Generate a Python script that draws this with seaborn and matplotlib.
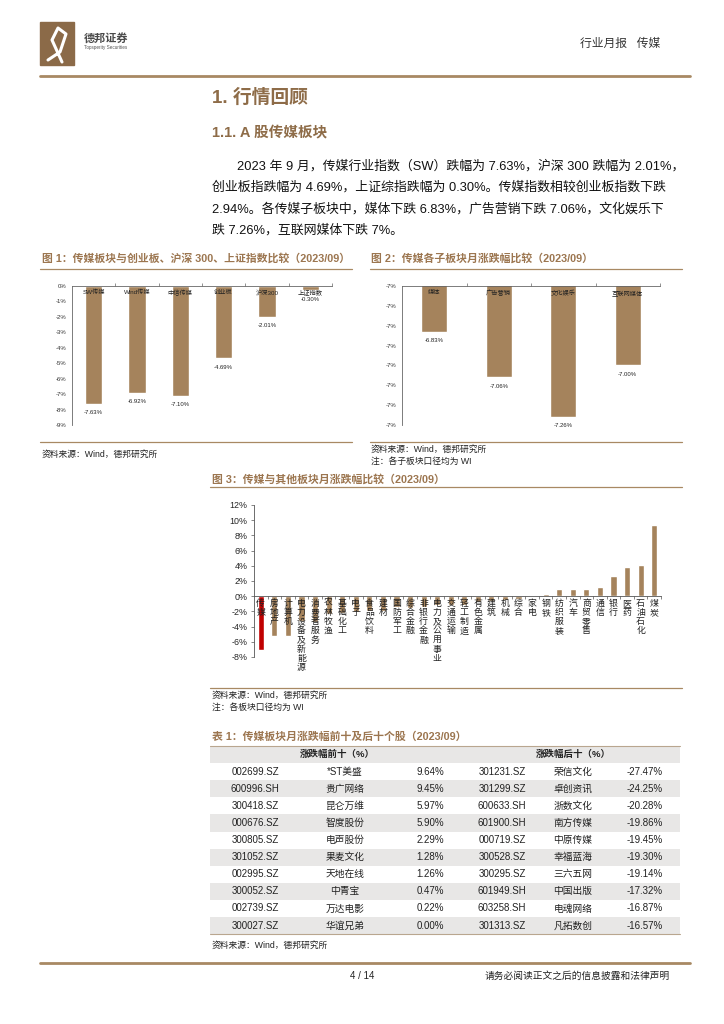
import matplotlib.pyplot as plt
from matplotlib.patches import Rectangle
from matplotlib.ticker import FuncFormatter
import numpy as np
import pandas as pd
import seaborn as sns

W, H = 724, 1024
BROWN = '#A5835C'
RED = '#C00000'
HEAD = '#8E6C48'
TITLE = '#9C7650'
RULE = '#A88963'

# figure 1: index comparison
idx_names = ['SW传媒', 'Wind传媒', '中信传媒', '创业板', '沪深300', '上证指数']
idx_chg = [-7.63, -6.92, -7.10, -4.69, -2.01, -0.30]

# figure 2: media sub-sectors
sub_names = ['媒体', '广告营销', '文化娱乐', '互联网媒体']
sub_chg = [-6.83, -7.06, -7.26, -7.00]

# figure 3: CITIC industries
ind_names = ['传媒', '房地产', '计算机', '电力设备及新能源', '消费者服务', '农林牧渔',
             '基础化工', '电子', '食品饮料', '建材', '国防军工', '综合金融',
             '非银行金融', '电力及公用事业', '交通运输', '轻工制造', '有色金属', '建筑',
             '机械', '综合', '家电', '钢铁', '纺织服装', '汽车', '商贸零售', '通信',
             '银行', '医药', '石油石化', '煤炭']
ind_chg = [-7.10, -5.30, -5.30, -3.30, -3.40, -2.30, -2.20, -2.10, -2.00, -1.90,
           -1.40, -1.60, -1.40, -1.20, -1.10, -1.10, -0.75, -0.65, -0.45, -0.40,
           0.15, 0.25, 0.90, 1.00, 1.00, 1.15, 2.70, 3.80, 4.10, 9.40]

# table 1: top / bottom ten stocks
top_codes = ['002699.SZ', '600996.SH', '300418.SZ', '000676.SZ', '300805.SZ',
             '301052.SZ', '002995.SZ', '300052.SZ', '002739.SZ', '300027.SZ']
top_names = ['*ST美盛', '贵广网络', '昆仑万维', '智度股份', '电声股份',
             '果麦文化', '天地在线', '中青宝', '万达电影', '华谊兄弟']
top_chg = [9.64, 9.45, 5.97, 5.90, 2.29, 1.28, 1.26, 0.47, 0.22, 0.00]
low_codes = ['301231.SZ', '301299.SZ', '600633.SH', '601900.SH', '000719.SZ',
             '300528.SZ', '300295.SZ', '601949.SH', '603258.SH', '301313.SZ']
low_names = ['荣信文化', '卓创资讯', '浙数文化', '南方传媒', '中原传媒',
             '幸福蓝海', '三六五网', '中国出版', '电魂网络', '凡拓数创']
low_chg = [-27.47, -24.25, -20.28, -19.86, -19.45, -19.30, -19.14, -17.32, -16.87, -16.57]

para_lines = [
    '2023 年 9 月，传媒行业指数（SW）跌幅为 7.63%，沪深 300 跌幅为 2.01%，',
    '创业板指跌幅为 4.69%，上证综指跌幅为 0.30%。传媒指数相较创业板指数下跌',
    '2.94%。各传媒子板块中，媒体下跌 6.83%，广告营销下跌 7.06%，文化娱乐下',
    '跌 7.26%，互联网媒体下跌 7%。',
]

pct0 = FuncFormatter(lambda v, _: f'{v:.0f}%')


def axes_px(fig, x0, y0, x1, y1):
    ax = fig.add_axes([x0 / W, 1 - y1 / H, (x1 - x0) / W, (y1 - y0) / H])
    ax.set_facecolor('none')
    return ax


def small_bars(ax, names, chg, ylim, yticks, name_y, val_off):
    df = pd.DataFrame({'name': names, 'chg': chg})
    sns.barplot(df, x='name', y='chg', color=BROWN, width=0.4, saturation=1, ax=ax)
    ax.set_axisbelow(False)
    n = len(names)
    ax.set_xlim(-0.5, n - 0.5)
    ax.set_ylim(*ylim)
    ax.set_xlabel('')
    ax.set_ylabel('')
    ax.set_yticks(yticks)
    ax.yaxis.set_major_formatter(pct0)
    ax.xaxis.tick_top()
    ax.set_xticks(np.arange(n) + 0.5)
    ax.set_xticklabels([])
    ax.tick_params(axis='x', length=2, width=0.5, color='#666666')
    ax.tick_params(axis='y', labelsize=4.3, length=2, width=0.5, pad=2,
                   color='#666666', labelcolor='#333333')
    for s in ['bottom', 'right']:
        ax.spines[s].set_visible(False)
    for s in ['top', 'left']:
        ax.spines[s].set_color('#666666')
        ax.spines[s].set_linewidth(0.6)
    for i, (nm, v) in enumerate(zip(names, chg)):
        ax.text(i, name_y, nm, ha='center', va='center', fontsize=4.5, color='#222222')
        ax.text(i, v - val_off, f'{v:.2f}%', ha='center', va='center', fontsize=4.3,
                color='#222222', clip_on=False)


def main():
    sns.set_theme(style='white')
    plt.rcParams['font.family'] = ['Liberation Sans', 'Noto Sans CJK SC']
    plt.rcParams['axes.unicode_minus'] = False

    fig = plt.figure(figsize=(W / 100, H / 100), dpi=100)
    fig.patch.set_facecolor('white')

    pg = fig.add_axes([0, 0, 1, 1])
    pg.set_xlim(0, W)
    pg.set_ylim(H, 0)
    pg.axis('off')

    # header
    pg.add_patch(Rectangle((40, 22), 34, 43, color='#8B6A48'))
    pg.plot([48, 60, 66, 58, 52, 62], [60, 52, 34, 28, 40, 62], color='white', lw=2.2,
            solid_capstyle='round')
    pg.text(84, 38, '德邦证券', fontsize=8, fontweight='bold', color='#4A4A4A', va='center')
    pg.text(84, 48, 'Topsperity Securities', fontsize=3.3, color='#555555', va='center')
    pg.text(660, 44, '行业月报   传媒', fontsize=8.5, color='#333333', ha='right', va='center')
    pg.plot([40, 690], [75.5, 75.5], color=RULE, lw=2)

    # headings and paragraph
    pg.text(212, 98, '1. 行情回顾', fontsize=13.5, fontweight='bold', color=HEAD, va='center')
    pg.text(212, 133, '1.1. A 股传媒板块', fontsize=10.5, fontweight='bold', color=HEAD,
            va='center')
    for k, line in enumerate(para_lines):
        pg.text(237 if k == 0 else 212, 166 + k * 21.5, line, fontsize=9.3, color='#111111',
                va='center')

    # figure titles / rules / sources
    pg.text(42, 258, '图 1：传媒板块与创业板、沪深 300、上证指数比较（2023/09）', fontsize=7.8,
            fontweight='bold', color=TITLE, va='center')
    pg.plot([40, 352], [268.5, 268.5], color=RULE, lw=0.9)
    pg.plot([40, 352], [442, 442], color=RULE, lw=0.9)
    pg.text(42, 454, '资料来源：Wind，德邦研究所', fontsize=6.3, color='#222222', va='center')

    pg.text(371, 258, '图 2：传媒各子板块月涨跌幅比较（2023/09）', fontsize=7.8,
            fontweight='bold', color=TITLE, va='center')
    pg.plot([370, 682], [268.5, 268.5], color=RULE, lw=0.9)
    pg.plot([370, 682], [442, 442], color=RULE, lw=0.9)
    pg.text(371, 449, '资料来源：Wind，德邦研究所', fontsize=6.3, color='#222222', va='center')
    pg.text(371, 461, '注：各子板块口径均为 WI', fontsize=6.3, color='#222222', va='center')

    pg.text(212, 479, '图 3：传媒与其他板块月涨跌幅比较（2023/09）', fontsize=7.8,
            fontweight='bold', color=TITLE, va='center')
    pg.plot([210, 682], [486.5, 486.5], color=RULE, lw=0.9)
    pg.plot([210, 682], [688, 688], color=RULE, lw=0.9)
    pg.text(212, 695, '资料来源：Wind，德邦研究所', fontsize=6.3, color='#222222', va='center')
    pg.text(212, 707, '注：各板块口径均为 WI', fontsize=6.3, color='#222222', va='center')

    # table 1
    pg.text(212, 737, '表 1：传媒板块月涨跌幅前十及后十个股（2023/09）', fontsize=7.8,
            fontweight='bold', color=TITLE, va='center')
    top, rh = 746, 17.1
    pg.add_patch(Rectangle((210, top), 470, rh, color='#E8E7E6', lw=0))
    pg.plot([210, 680], [top, top], color='#B9A68F', lw=0.8)
    pg.text(337, top + rh / 2, '涨跌幅前十（%）', fontsize=6.8, fontweight='bold',
            ha='center', va='center', color='#222222')
    pg.text(573, top + rh / 2, '涨跌幅后十（%）', fontsize=6.8, fontweight='bold',
            ha='center', va='center', color='#222222')
    for i in range(len(top_codes)):
        y0 = top + rh * (i + 1)
        if i % 2 == 1:
            pg.add_patch(Rectangle((210, y0), 470, rh, color='#E8E7E6', lw=0))
        yc = y0 + rh / 2
        row = [(255, top_codes[i]), (345, top_names[i]), (430, f'{top_chg[i]:.2f}%'),
               (502, low_codes[i]), (573, low_names[i]), (645, f'{low_chg[i]:.2f}%')]
        for x, t in row:
            pg.text(x, yc, t, fontsize=7, ha='center', va='center', color='#222222')
    bottom = top + rh * (len(top_codes) + 1)
    pg.plot([210, 680], [bottom, bottom], color='#B9A68F', lw=0.8)
    pg.text(212, 945, '资料来源：Wind，德邦研究所', fontsize=6.3, color='#222222', va='center')

    # footer
    pg.plot([40, 690], [963, 963], color=RULE, lw=2)
    pg.text(362, 976, '4 / 14', fontsize=7, color='#222222', ha='center', va='center')
    pg.text(670, 976, '请务必阅读正文之后的信息披露和法律声明', fontsize=7, color='#222222',
            ha='right', va='center')

    # figure 1
    ax1 = axes_px(fig, 72, 285.7, 332, 425)
    small_bars(ax1, idx_names, idx_chg, (-9, 0), range(-9, 1), -0.45, 0.58)

    # figure 2
    ax2 = axes_px(fig, 402, 286, 660, 425)
    small_bars(ax2, sub_names, sub_chg, (-7.3, -6.6), np.linspace(-7.3, -6.6, 8),
               -6.635, 0.045)

    # figure 3
    ax3 = axes_px(fig, 254, 505, 661, 657)
    df = pd.DataFrame({'name': ind_names, 'chg': ind_chg})
    colors = [RED if n == '传媒' else BROWN for n in ind_names]
    sns.barplot(df, x='name', y='chg', hue='name', palette=colors, legend=False,
                width=0.45, saturation=1, ax=ax3)
    ax3.set_axisbelow(False)
    ax3.set_xlim(-0.5, len(ind_names) - 0.5)
    ax3.set_ylim(-8, 12)
    ax3.set_xlabel('')
    ax3.set_ylabel('')
    ax3.set_yticks(range(-8, 13, 2))
    ax3.yaxis.set_major_formatter(pct0)
    ax3.spines['bottom'].set_position(('data', 0))
    for s in ['top', 'right']:
        ax3.spines[s].set_visible(False)
    for s in ['bottom', 'left']:
        ax3.spines[s].set_color('#555555')
        ax3.spines[s].set_linewidth(0.6)
    ax3.set_xticks(range(len(ind_names)))
    ax3.set_xticklabels(['\n'.join(n) for n in ind_names], fontsize=6.4,
                        linespacing=1.02, va='top', color='#222222')
    ax3.set_xticks(np.arange(len(ind_names)) + 0.5, minor=True)
    ax3.tick_params(axis='x', which='major', length=0, pad=2)
    ax3.tick_params(axis='x', which='minor', length=2.5, width=0.5, color='#555555',
                    bottom=True)
    ax3.tick_params(axis='y', labelsize=6.4, length=2.5, width=0.5, pad=2,
                    color='#555555', left=True)

    fig.savefig('out.png', dpi=100)


if __name__ == '__main__':
    main()
